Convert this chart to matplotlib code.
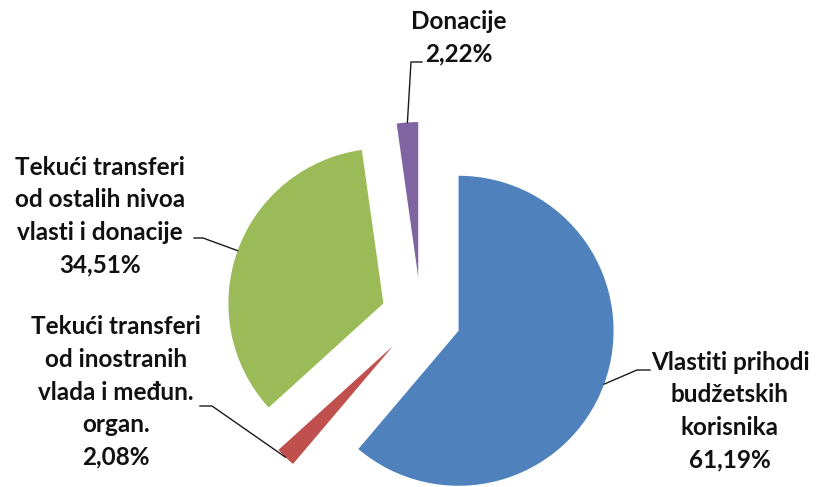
import numpy as np
import matplotlib.pyplot as plt

# slice data (clockwise from 12 o'clock)
labels = ["Vlastiti prihodi\nbudžetskih\nkorisnika\n61,19%",
          "Tekući transferi\nod inostranih\nvlada i međun.\norgan.\n2,08%",
          "Tekući transferi\nod ostalih nivoa\nvlasti i donacije\n34,51%",
          "Donacije\n2,22%"]
values = [61.19, 2.08, 34.51, 2.22]
colors = ["#4F81BD", "#C0504D", "#9BBB59", "#8064A2"]

W, H = 818, 487
R = 155
CX, CY = 421, H - 317
EXPL = 40

# label layout: text centre, elbow of leader, leader end (pixel coords, y down)
text_pos = [(730, 411), (116, 392), (100, 216), (459, 38)]
elbows = [(637, 370), (212, 406), (203, 238), (411, 62)]
ends = [(650, 370), (200, 406), (194, 238), (422, 62)]

fig = plt.figure(figsize=(W / 100, H / 100), dpi=100)
ax = fig.add_axes([0, 0, 1, 1])
ax.set_xlim(0, W)
ax.set_ylim(0, H)
ax.set_aspect("equal")
ax.axis("off")

wedges, _ = ax.pie(values, colors=colors, startangle=90, counterclock=False,
                   radius=R, center=(CX, CY), explode=[EXPL] * len(values),
                   wedgeprops=dict(linewidth=0))
ax.set_xlim(0, W)
ax.set_ylim(0, H)

for w, lab, tp, el, en in zip(wedges, labels, text_pos, elbows, ends):
    mid = np.deg2rad((w.theta1 + w.theta2) / 2)
    ax_x = w.center[0] + w.r * np.cos(mid)
    ax_y = w.center[1] + w.r * np.sin(mid)
    ax.plot([ax_x, el[0], en[0]], [ax_y, H - el[1], H - en[1]],
            color="#1a1a1a", lw=1.0)
    ax.text(tp[0], H - tp[1], lab, ha="center", va="center", fontsize=17.5,
            fontweight="bold", family="Lato", linespacing=1.5, color="#111111")

fig.savefig("out.png", dpi=100)
